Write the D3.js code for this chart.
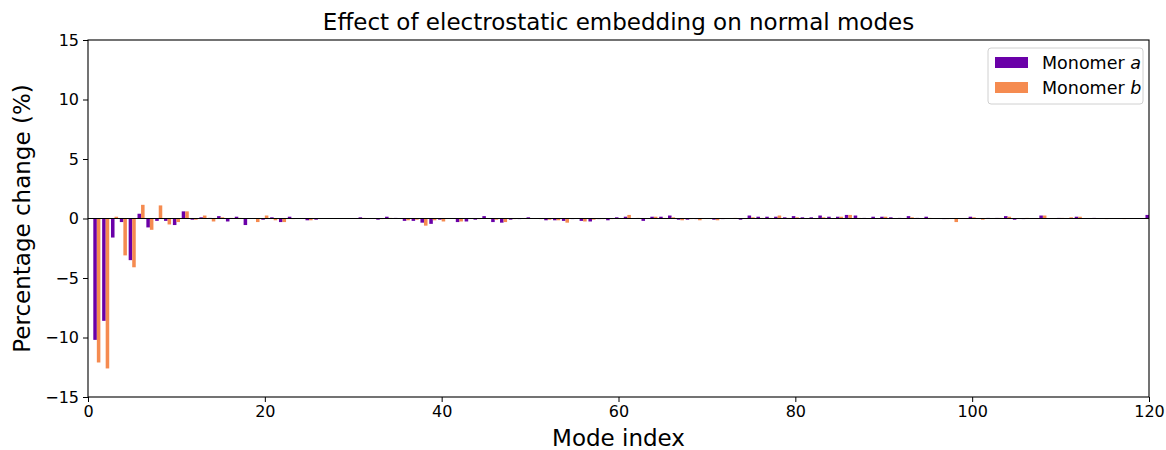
<!DOCTYPE html>
<html>
<head>
<meta charset="utf-8">
<script src="https://cdn.jsdelivr.net/npm/d3@7"></script>
<style>
  body { margin: 0; background: #fff; }
  svg { font-family: "DejaVu Sans", sans-serif; }
</style>
</head>
<body>
<svg id="chart" width="1166" height="450"></svg>
<script>
// mode indices 1..120
var modes = d3.range(1, 121);

// percentage change per mode, monomer a
var monomerA = [
  -10.2, -8.6, -1.6, -0.3, -3.5, 0.4, -0.75, -0.2, -0.2, -0.55,
  0.6, -0.1, 0.1, 0.05, 0.2, -0.25, 0.15, -0.55, 0.0, -0.1,
  0.1, -0.3, 0.15, 0.0, -0.15, -0.1, 0.0, 0.0, 0.03, 0.0,
  0.1, 0.03, -0.1, 0.15, 0.05, -0.2, -0.2, -0.35, -0.45, -0.1,
  0.0, -0.3, -0.25, -0.1, 0.2, -0.3, -0.35, -0.1, -0.05, 0.1,
  0.0, -0.15, -0.15, -0.2, -0.05, -0.2, -0.25, -0.05, -0.15, 0.1,
  0.15, 0.02, -0.2, 0.15, 0.15, 0.25, -0.1, -0.1, -0.05, 0.0,
  -0.1, -0.05, 0.03, -0.1, 0.25, 0.15, 0.15, 0.15, 0.1, 0.2,
  0.1, 0.1, 0.25, 0.15, 0.15, 0.3, 0.25, 0.05, 0.15, 0.15,
  0.1, 0.05, 0.2, 0.05, 0.15, 0.0, -0.05, 0.0, 0.0, 0.15,
  0.0, 0.05, 0.05, 0.2, -0.1, -0.05, 0.0, 0.25, 0.0, 0.05,
  0.03, 0.15, 0.0, 0.05, 0.0, 0.0, 0.0, 0.0, 0.0, 0.3
];

// percentage change per mode, monomer b
var monomerB = [
  -12.1, -12.6, 0.15, -3.1, -4.1, 1.15, -0.95, 1.1, -0.5, -0.3,
  0.6, -0.1, 0.25, -0.25, 0.1, 0.05, 0.05, 0.0, -0.3, 0.25,
  -0.15, -0.3, -0.05, 0.0, -0.15, 0.03, 0.0, 0.0, 0.0, 0.0,
  0.05, 0.03, -0.05, 0.05, 0.0, -0.15, -0.1, -0.6, -0.15, -0.25,
  0.0, -0.25, 0.0, -0.05, 0.0, -0.1, -0.3, -0.05, 0.0, 0.02,
  -0.05, -0.1, -0.15, -0.35, 0.0, -0.25, -0.1, -0.05, -0.05, 0.0,
  0.3, 0.05, 0.0, 0.15, 0.05, 0.1, -0.15, -0.05, -0.15, 0.02,
  -0.15, 0.0, 0.05, 0.0, 0.1, 0.05, 0.05, 0.25, 0.05, 0.1,
  0.03, 0.03, 0.1, 0.0, 0.15, 0.3, 0.05, 0.0, 0.0, 0.15,
  0.0, 0.0, 0.1, 0.0, 0.05, 0.0, -0.05, -0.3, 0.0, 0.1,
  -0.1, 0.0, 0.05, 0.15, 0.0, 0.05, 0.0, 0.25, 0.0, 0.05,
  0.1, 0.15, 0.0, 0.03, -0.05, 0.0, -0.05, 0.0, 0.0, 0.0
];

var xTicks = [0, 20, 40, 60, 80, 100, 120];
var yTicks = [-15, -10, -5, 0, 5, 10, 15];

var series = [
  {name: "a", values: monomerA, color: "#6a00a8", offset: -0.4},
  {name: "b", values: monomerB, color: "#f58b50", offset: 0}
];

var barWidth = 0.4;
var margin = {left: 88, right: 17, top: 40, bottom: 53};
var W = 1166, H = 450;
var plotW = W - margin.left - margin.right;
var plotH = H - margin.top - margin.bottom;

var svg = d3.select("#chart");

var x = d3.scaleLinear().domain([0, 120]).range([0, plotW]);
var y = d3.scaleLinear().domain([-15, 15]).range([plotH, 0]);

svg.append("defs").append("clipPath").attr("id", "clip")
  .append("rect").attr("width", plotW).attr("height", plotH);

var g = svg.append("g").attr("transform", `translate(${margin.left},${margin.top})`);

var bars = g.append("g").attr("clip-path", "url(#clip)");
series.forEach(s => {
  bars.append("g").selectAll("rect")
    .data(modes.map((m, i) => ({m: m, v: s.values[i]})))
    .join("rect")
    .attr("x", d => x(d.m + s.offset))
    .attr("width", d => x(barWidth) - x(0))
    .attr("y", d => y(Math.max(0, d.v)))
    .attr("height", d => Math.abs(y(d.v) - y(0)))
    .attr("fill", s.color);
});

// zero line
g.append("line")
  .attr("x1", 0).attr("x2", plotW)
  .attr("y1", y(0)).attr("y2", y(0))
  .attr("stroke", "#000").attr("stroke-width", 1);

// axes
var xAxis = g.append("g").attr("transform", `translate(0,${plotH})`)
  .call(d3.axisBottom(x).tickValues(xTicks).tickSize(5).tickPadding(4).tickFormat(d3.format("d")));
var yAxis = g.append("g")
  .call(d3.axisLeft(y).tickValues(yTicks).tickSize(5).tickPadding(4)
    .tickFormat(d => d < 0 ? "\u2212" + Math.abs(d) : d));
[xAxis, yAxis].forEach(a => {
  a.selectAll("text").attr("font-size", 16).attr("fill", "#000").attr("font-family", "DejaVu Sans");
  a.selectAll("line").attr("stroke", "#000").attr("stroke-width", 1);
  a.select(".domain").remove();
});

// frame
g.append("rect").attr("width", plotW).attr("height", plotH)
  .attr("fill", "none").attr("stroke", "#000").attr("stroke-width", 1.1);

// labels
svg.append("text").attr("x", margin.left + plotW / 2).attr("y", 30)
  .attr("text-anchor", "middle").attr("font-size", 23).text("Effect of electrostatic embedding on normal modes");
svg.append("text").attr("x", margin.left + plotW / 2).attr("y", 446)
  .attr("text-anchor", "middle").attr("font-size", 23).text("Mode index");
svg.append("text").attr("transform", `translate(30,${margin.top + plotH / 2}) rotate(-90)`)
  .attr("text-anchor", "middle").attr("font-size", 23).text("Percentage change (%)");

// legend
var leg = svg.append("g").attr("transform", "translate(988,48)");
leg.append("rect").attr("width", 155).attr("height", 56).attr("rx", 3)
  .attr("fill", "#fff").attr("fill-opacity", 0.8).attr("stroke", "#d0d0d0").attr("stroke-width", 1);
series.forEach((s, i) => {
  var row = leg.append("g").attr("transform", `translate(7,${9 + i * 25})`);
  row.append("rect").attr("width", 33).attr("height", 11).attr("fill", s.color);
  var t = row.append("text").attr("x", 47).attr("y", 11.5).attr("font-size", 17.5);
  t.append("tspan").text("Monomer ");
  t.append("tspan").attr("font-style", "italic").text(s.name);
});
</script>
</body>
</html>
